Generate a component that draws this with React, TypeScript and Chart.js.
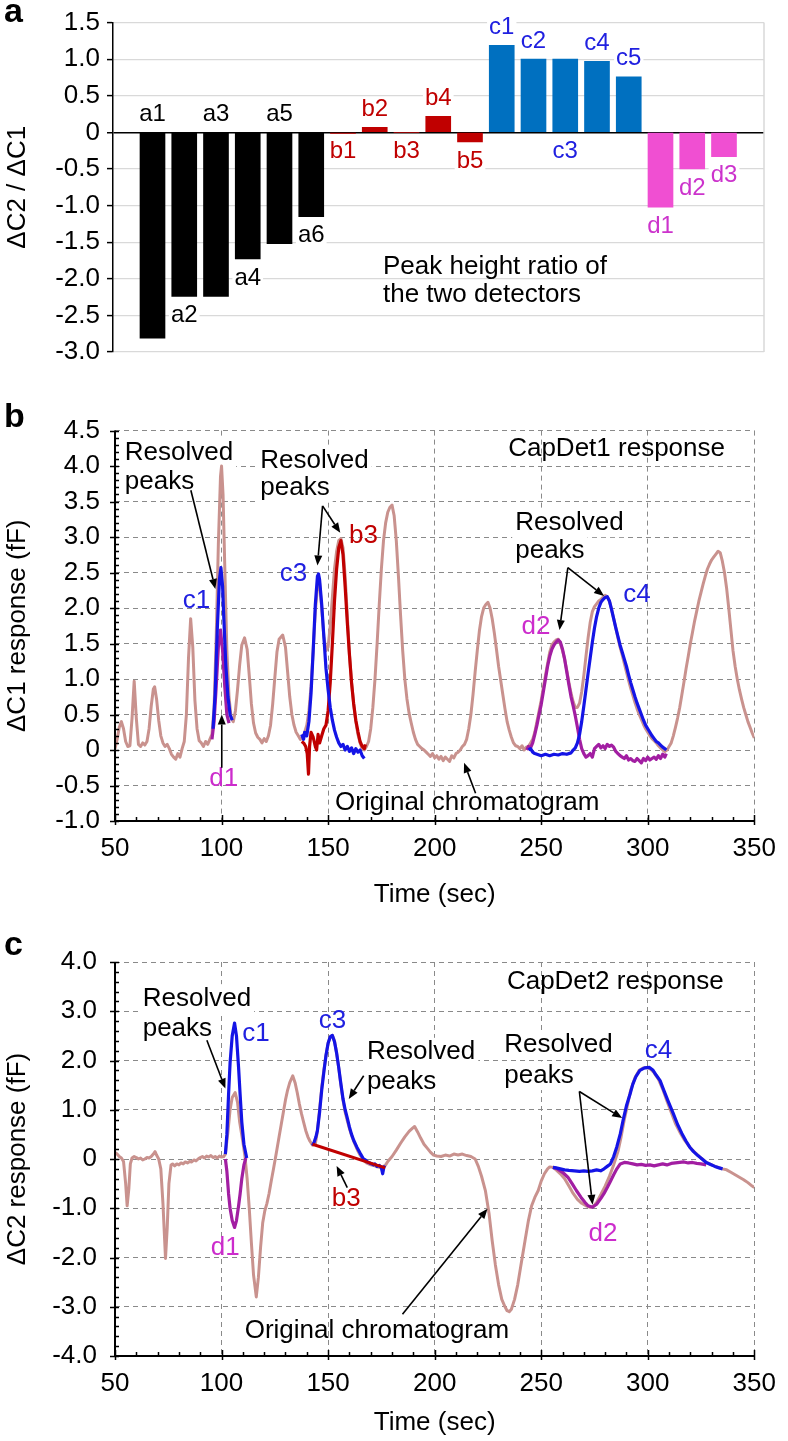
import React, { useEffect, useRef } from 'react';
import { Chart, registerables } from 'chart.js';

Chart.register(...registerables);

const FONT = "'Liberation Sans', Arial, Helvetica, sans-serif";

type Pt = [number, number];

// ---------------- Panel a : peak height ratio ----------------
const barLabels = ['a1', 'a2', 'a3', 'a4', 'a5', 'a6', 'b1', 'b2', 'b3', 'b4', 'b5', 'c1', 'c2', 'c3', 'c4', 'c5', 'd1', 'd2', 'd3'];
const barValues = [-2.81, -2.24, -2.24, -1.73, -1.52, -1.15, -0.015, 0.07, 0, 0.22, -0.13, 1.19, 1.0, 1.0, 0.97, 0.76, -1.02, -0.5, -0.33];
const barGroups = ['a', 'a', 'a', 'a', 'a', 'a', 'b', 'b', 'b', 'b', 'b', 'c', 'c', 'c', 'c', 'c', 'd', 'd', 'd'];
// z = anchored at zero line, e = anchored at bar end; a = above, b = below
const barLabelPlace = ['za', 'eb', 'za', 'eb', 'za', 'eb', 'zb', 'ea', 'zb', 'ea', 'eb', 'ea', 'ea', 'zb', 'ea', 'ea', 'eb', 'eb', 'eb'];
const yTicksA = [1.5, 1.0, 0.5, 0, -0.5, -1.0, -1.5, -2.0, -2.5, -3.0];

// ---------------- Panel b : CapDet1 ----------------
const xTicks = [50, 100, 150, 200, 250, 300, 350];
const yTicksB = [-1.0, -0.5, 0, 0.5, 1.0, 1.5, 2.0, 2.5, 3.0, 3.5, 4.0, 4.5];

const origB: Pt[] = [
  [50, 0.02], [51, 0.15], [52, 0.32], [53, 0.4], [54, 0.3], [55, 0.12], [56, 0.05], [57, 0.06], [58, 0.45], [59, 0.97], [60, 0.45], [61, 0.08],
  [62, 0.05], [63, 0.1], [64, 0.07], [65, 0.12], [66, 0.3], [67, 0.62], [68, 0.86], [68.6, 0.89], [69.5, 0.72], [70.5, 0.42], [71.5, 0.2],
  [72.5, 0.1], [73.5, 0.05], [74.5, 0.08], [75.5, 0.02], [76.5, -0.06], [77.5, -0.1], [78.5, -0.13], [79.5, -0.05], [80.5, -0.1], [81.5, 0.02],
  [82.5, 0.12], [83.5, 0.5], [84.5, 1.3], [85.5, 1.85], [86.5, 1.45], [87.5, 0.7], [88.5, 0.3], [89.5, 0.13], [90.5, 0.1], [91.5, 0.05],
  [92.5, 0.12], [93.5, 0.08], [94.5, 0.15], [95.5, 0.22], [96.5, 0.6], [97.5, 1.6], [98.5, 2.9], [99.5, 3.85], [100, 4.0], [100.7, 3.6],
  [101.5, 2.6], [102.5, 1.4], [103.5, 0.75], [104.5, 0.45], [105.5, 0.4], [106.5, 0.55], [107.5, 0.85], [108.5, 1.2], [109.5, 1.48],
  [110.8, 1.58], [112, 1.42], [113, 1.05], [114, 0.65], [115, 0.38], [116, 0.24], [117, 0.18], [118, 0.15], [119, 0.1], [120, 0.16],
  [121, 0.12], [122, 0.2], [123, 0.35], [124, 0.65], [125, 1.02], [126, 1.38], [127, 1.56], [128.7, 1.62], [130, 1.45], [131, 1.1],
  [132, 0.75], [133, 0.5], [134, 0.35], [135, 0.25], [136, 0.2], [137, 0.15], [138, 0.18], [139, 0.25], [140, 0.35], [141, 0.55],
  [142, 0.9], [143, 1.4], [144, 1.95], [145, 2.3], [146, 2.35], [147, 2.0], [148, 1.6], [149, 1.4], [150, 1.45], [151, 1.75], [152, 2.15],
  [153, 2.55], [154, 2.8], [155, 2.95], [156, 2.98], [157, 2.85], [158, 2.45], [159, 1.9], [160, 1.35], [161, 0.95], [162, 0.65],
  [163, 0.4], [164, 0.22], [165, 0.1], [166, 0.02], [167, 0.0], [168, 0.05], [169, 0.12], [170, 0.3], [171, 0.6], [172, 1.0], [173, 1.5],
  [174, 2.05], [175, 2.55], [176, 2.95], [177, 3.2], [178, 3.35], [179, 3.42], [180, 3.45], [181, 3.3], [182, 2.95], [183, 2.45],
  [184, 1.9], [185, 1.4], [186, 1.0], [187, 0.72], [188, 0.52], [189, 0.38], [190, 0.25], [191, 0.15], [192, 0.08], [193, 0.05],
  [194, 0.02], [195, 0.0], [196, -0.03], [197, -0.06], [198, -0.09], [199, -0.05], [200, -0.11], [201, -0.08], [202, -0.13], [203, -0.09],
  [204, -0.15], [205, -0.1], [206, -0.13], [207, -0.16], [208, -0.08], [209, -0.11], [210, -0.05], [211, -0.03], [212, 0.0], [213, 0.05],
  [214, 0.08], [215, 0.15], [216, 0.3], [217, 0.5], [218, 0.78], [219, 1.1], [220, 1.4], [221, 1.68], [222, 1.88], [223, 2.0], [224, 2.05],
  [225, 2.08], [226, 2.0], [227, 1.85], [228, 1.65], [229, 1.42], [230, 1.18], [231, 0.98], [232, 0.78], [233, 0.58], [234, 0.4],
  [235, 0.28], [236, 0.18], [237, 0.1], [238, 0.06], [239, 0.05], [240, 0.02], [241, 0.06], [242, 0.0], [243, 0.04], [244, 0.05],
  [245, 0.1], [246, 0.15], [247, 0.25], [248, 0.4], [249, 0.55], [250, 0.7], [251, 0.88], [252, 1.05], [253, 1.22], [254, 1.38],
  [255, 1.48], [256, 1.52], [257, 1.55], [258, 1.56], [259, 1.5], [260, 1.4], [261, 1.28], [262, 1.12], [263, 0.95], [264, 0.8],
  [265, 0.68], [266, 0.6], [267, 0.6], [268, 0.66], [269, 0.82], [270, 1.05], [271, 1.32], [272, 1.58], [273, 1.8], [274, 1.95],
  [275, 2.02], [276, 2.06], [277, 2.1], [278, 2.12], [279, 2.15], [280, 2.18], [281, 2.16], [282, 2.1], [283, 1.98], [284, 1.85],
  [285, 1.72], [286, 1.58], [287, 1.45], [288, 1.34], [289, 1.22], [290, 1.1], [291, 0.98], [292, 0.87], [293, 0.77], [294, 0.67],
  [295, 0.58], [296, 0.5], [297, 0.43], [298, 0.36], [299, 0.3], [300, 0.25], [301, 0.2], [302, 0.16], [303, 0.13], [304, 0.1],
  [305, 0.06], [306, 0.03], [307, 0.0], [308, -0.02], [309, 0.0], [310, 0.05], [311, 0.1], [312, 0.2], [313, 0.32], [314, 0.45],
  [315, 0.6], [316, 0.78], [317, 0.96], [318, 1.15], [319, 1.32], [320, 1.5], [321, 1.66], [322, 1.82], [323, 1.96], [324, 2.1],
  [325, 2.22], [326, 2.34], [327, 2.45], [328, 2.55], [329, 2.62], [330, 2.68], [331, 2.72], [332, 2.76], [333, 2.8], [334, 2.78],
  [335, 2.66], [336, 2.5], [337, 2.28], [338, 2.0], [339, 1.7], [340, 1.4], [341, 1.18], [342, 1.0], [343, 0.85], [344, 0.72],
  [345, 0.6], [346, 0.5], [347, 0.4], [348, 0.32], [349, 0.24], [350, 0.17],
];
const c1B: Pt[] = [[96, 0.3], [97, 0.8], [98, 1.7], [99, 2.4], [99.7, 2.57], [100.5, 2.3], [101, 1.9], [102, 1.2], [103, 0.75], [104, 0.5], [105, 0.42]];
const d1B: Pt[] = [[95.5, 0.15], [96.5, 0.4], [97.5, 0.9], [98.5, 1.45], [99.5, 1.69], [100.5, 1.4], [101.5, 0.9], [102.5, 0.5], [103.5, 0.38]];
const c3B: Pt[] = [
  [137.6, 0.22], [138.5, 0.15], [139, 0.25], [140, 0.2], [141, 0.4], [142, 0.8], [143, 1.4], [144, 2.05], [145, 2.45], [145.5, 2.48],
  [146, 2.4], [147, 2.05], [148, 1.6], [149, 1.15], [150, 0.85], [151, 0.6], [152, 0.42], [153, 0.28], [154, 0.18], [155, 0.1], [156, 0.05],
  [157, 0.08], [158, 0.0], [159, 0.05], [160, -0.02], [161, 0.03], [162, -0.05], [163, 0.02], [164, -0.03], [165, 0.0], [166, -0.08], [167, -0.12],
];
const b3B: Pt[] = [
  [137.6, 0.12], [138.5, 0.1], [139.5, 0.05], [140.2, -0.05], [140.8, -0.34], [141.3, 0.05], [142, 0.25], [143, 0.18], [144, 0.05],
  [144.6, 0.0], [145.3, 0.22], [146, 0.1], [147, 0.2], [148, 0.3], [149, 0.35], [150, 0.55], [151, 0.95], [152, 1.5], [153, 2.1],
  [154, 2.55], [155, 2.85], [156, 2.95], [157, 2.75], [158, 2.3], [159, 1.8], [160, 1.35], [161, 0.95], [162, 0.65], [163, 0.42],
  [164, 0.26], [165, 0.12], [166, 0.05], [167, 0.02], [167.5, 0.08],
];
const d2B: Pt[] = [
  [243.2, 0.0], [244, 0.05], [245, 0.03], [246, 0.1], [247, 0.22], [248, 0.35], [249, 0.5], [250, 0.64], [251, 0.82], [252, 1.0],
  [253, 1.18], [254, 1.32], [255, 1.42], [256, 1.48], [257, 1.52], [258, 1.55], [259, 1.52], [260, 1.42], [261, 1.28], [262, 1.1],
  [263, 0.92], [264, 0.75], [265, 0.62], [266, 0.48], [267, 0.32], [268, 0.15], [269, 0.02], [270, -0.05], [271, -0.1], [272, -0.08],
  [273, -0.05], [274, -0.1], [275, 0.02], [276, 0.05], [277, 0.08], [278, 0.03], [279, 0.06], [280, 0.02], [281, 0.08], [282, 0.05],
  [283, 0.07], [284, 0.04], [285, -0.02], [286, -0.05], [287, -0.08], [288, -0.1], [289, -0.12], [290, -0.08], [291, -0.14], [292, -0.12],
  [293, -0.15], [294, -0.16], [295, -0.12], [296, -0.15], [297, -0.18], [298, -0.12], [299, -0.15], [300, -0.1], [301, -0.14],
  [302, -0.12], [303, -0.1], [304, -0.13], [305, -0.08], [306, -0.12], [307, -0.06], [308, -0.1], [308.7, -0.05],
];
const c4B: Pt[] = [
  [244, 0.0], [245, 0.02], [246, -0.03], [247, -0.05], [248, -0.06], [250, -0.08], [252, -0.06], [254, -0.08], [256, -0.06], [258, -0.07],
  [260, -0.05], [262, -0.06], [264, -0.04], [265, 0.0], [266, 0.03], [267, 0.1], [268, 0.22], [269, 0.4], [270, 0.62], [271, 0.85],
  [272, 1.08], [273, 1.3], [274, 1.52], [275, 1.72], [276, 1.88], [277, 2.0], [278, 2.08], [279, 2.12], [280, 2.15], [281, 2.16],
  [282, 2.1], [283, 1.98], [284, 1.85], [285, 1.72], [286, 1.6], [287, 1.48], [288, 1.38], [289, 1.28], [290, 1.18], [291, 1.06],
  [292, 0.95], [293, 0.85], [294, 0.75], [295, 0.66], [296, 0.58], [297, 0.5], [298, 0.42], [299, 0.35], [300, 0.3], [301, 0.25],
  [302, 0.2], [303, 0.16], [304, 0.12], [305, 0.1], [306, 0.07], [307, 0.04], [308, 0.02], [308.7, 0.0],
];

// ---------------- Panel c : CapDet2 ----------------
const yTicksC = [-4.0, -3.0, -2.0, -1.0, 0, 1.0, 2.0, 3.0, 4.0];
const origC: Pt[] = [
  [50, 0.13], [51, 0.1], [52, 0.05], [53, 0.02], [54, -0.05], [55, -0.5], [55.7, -0.95], [56.5, -0.6], [57.2, -0.1], [58, 0.02],
  [59, 0.05], [60, 0.03], [61, 0.0], [62, 0.02], [63, -0.02], [64, 0.0], [65, 0.03], [66, 0.02], [67, 0.05], [68, 0.1], [68.8, 0.15],
  [69.5, 0.08], [70.5, 0.0], [71.5, -0.2], [72.5, -0.9], [73.7, -2.02], [74.5, -1.4], [75.3, -0.5], [76.3, -0.12], [77, -0.1],
  [78, -0.14], [79, -0.1], [80, -0.12], [81, -0.08], [82, -0.1], [83, -0.06], [84, -0.08], [85, -0.05], [86, -0.06], [87, -0.02],
  [88, -0.04], [89, 0.0], [90, 0.03], [91, 0.05], [92, 0.02], [93, 0.06], [94, 0.04], [95, 0.07], [96, 0.03], [97, 0.05], [98, 0.02],
  [99, 0.06], [100, 0.04], [101, 0.05], [101.8, 0.1], [103, 0.55], [104, 1.0], [105, 1.25], [106.4, 1.35], [107.5, 1.15], [108.5, 0.75],
  [110, 0.35], [111, 0.05], [112, -0.4], [113, -1.0], [114, -1.7], [115, -2.35], [116.3, -2.8], [117.3, -2.4], [118.3, -1.8],
  [119.3, -1.3], [120.3, -1.05], [121.3, -0.9], [122.3, -0.7], [123.3, -0.45], [124.3, -0.22], [125.2, 0.0], [126, 0.2], [127, 0.45],
  [128, 0.7], [129, 0.95], [130, 1.2], [131, 1.4], [132, 1.55], [133.4, 1.69], [134.5, 1.55], [135.5, 1.35], [136.5, 1.12], [137.5, 0.92],
  [138.5, 0.75], [139.5, 0.58], [140.5, 0.45], [141.5, 0.36], [142.7, 0.28], [144, 0.3], [145, 0.58], [146, 1.0], [147, 1.45], [148, 1.8],
  [149, 2.1], [150, 2.35], [151, 2.48], [152, 2.51], [153, 2.4], [154, 2.15], [155, 1.85], [156, 1.5], [157, 1.2], [158, 0.95],
  [159, 0.78], [160, 0.62], [161, 0.48], [162, 0.36], [163, 0.26], [164, 0.16], [165, 0.08], [166, 0.02], [167, -0.04], [168, -0.08],
  [169, -0.1], [170, -0.12], [171, -0.13], [172, -0.14], [173, -0.16], [174, -0.17], [175, -0.16], [176, -0.15], [177, -0.12],
  [178, -0.05], [180, 0.05], [182, 0.18], [184, 0.32], [186, 0.45], [188, 0.56], [189.5, 0.62], [190.6, 0.66], [192, 0.55], [193.5, 0.42],
  [195, 0.3], [196.5, 0.22], [198, 0.14], [199.5, 0.08], [201, 0.06], [203, 0.05], [205, 0.08], [207, 0.06], [209, 0.1], [211, 0.08],
  [213, 0.1], [215, 0.07], [217, 0.05], [219, 0.0], [220.5, -0.15], [222, -0.35], [223.8, -0.64], [225.5, -1.1], [227, -1.66],
  [228.5, -2.15], [230, -2.55], [231.5, -2.85], [233, -3.0], [234, -3.08], [235, -3.1], [236, -3.05], [237.5, -2.85], [239, -2.55],
  [240.5, -2.15], [242.4, -1.66], [244, -1.25], [245.5, -0.95], [247, -0.78], [248.6, -0.64], [250, -0.45], [251.5, -0.3], [253, -0.2],
  [254, -0.16], [255.5, -0.17], [257, -0.22], [259, -0.3], [261, -0.4], [263, -0.55], [265, -0.7], [267, -0.82], [269, -0.9], [271, -0.95],
  [273, -0.98], [274.5, -0.96], [276, -0.88], [278, -0.72], [280, -0.55], [282, -0.35], [284, -0.12], [286, 0.15], [287.5, 0.45],
  [289, 0.8], [290.5, 1.1], [292, 1.4], [294, 1.65], [296, 1.8], [298, 1.85], [300, 1.86], [301.5, 1.82], [303, 1.75], [305, 1.62],
  [307, 1.42], [309, 1.18], [311, 0.95], [313, 0.72], [315, 0.55], [317, 0.4], [319, 0.28], [321, 0.18], [323, 0.1], [325, 0.02],
  [327, -0.05], [329, -0.1], [331, -0.14], [333, -0.17], [335, -0.2], [337, -0.22], [339, -0.27], [341, -0.32], [343, -0.37],
  [345, -0.42], [347, -0.48], [349, -0.55], [350, -0.58],
];
const c1C: Pt[] = [[101.8, 0.1], [102.5, 0.5], [103.3, 1.32], [104, 1.95], [105, 2.5], [106.1, 2.76], [107, 2.5], [108, 1.85], [108.7, 1.32], [109.5, 0.75], [110.5, 0.3], [111.8, 0.02]];
const d1C: Pt[] = [[101.8, 0.0], [102.5, -0.25], [103.3, -0.71], [104, -1.0], [105, -1.25], [106.1, -1.39], [107, -1.25], [108, -0.95], [108.7, -0.71], [109.5, -0.4], [110.5, -0.12], [111.4, 0.02]];
const c3C: Pt[] = [
  [142.7, 0.27], [143.5, 0.35], [144.3, 0.45], [145, 0.58], [146, 0.95], [147, 1.4], [148.1, 1.8], [149, 2.1], [150, 2.35], [151, 2.48],
  [152, 2.51], [153, 2.38], [154, 2.15], [155, 1.85], [155.8, 1.59], [157, 1.22], [158, 1.0], [158.9, 0.85], [160, 0.65], [161, 0.5],
  [162, 0.38], [163.5, 0.24], [165, 0.12], [166.6, 0.0], [167.5, -0.02], [168.5, -0.06], [169.5, -0.08], [170.5, -0.1], [171.3, -0.12],
  [172, -0.1], [173, -0.15], [174, -0.13], [175, -0.18], [175.6, -0.3], [176.2, -0.16], [176.8, -0.18],
];
const b3C: Pt[] = [[142.7, 0.3], [176.8, -0.18]];
const c4C: Pt[] = [
  [255.5, -0.17], [257, -0.18], [259, -0.2], [261, -0.22], [263, -0.23], [265.6, -0.24], [268, -0.25], [270, -0.24], [272, -0.25],
  [274, -0.24], [276, -0.22], [277.9, -0.24], [279.5, -0.2], [281, -0.15], [282.5, -0.1], [284, 0.05], [285.5, 0.25], [287.1, 0.51],
  [288.5, 0.8], [290, 1.08], [291.7, 1.32], [293, 1.52], [294.5, 1.68], [296.3, 1.8], [298.5, 1.85], [300.8, 1.86], [302.5, 1.8],
  [304, 1.7], [305.8, 1.59], [307.5, 1.4], [309.5, 1.18], [312, 0.92], [314, 0.7], [316, 0.52], [318, 0.36], [319.7, 0.24],
  [321.5, 0.15], [323.5, 0.07], [325.5, 0.0], [327.4, -0.07], [329.5, -0.11], [331.5, -0.15], [333.5, -0.18], [335.1, -0.2],
];
const d2C: Pt[] = [
  [255.5, -0.17], [257.5, -0.2], [260, -0.27], [262.5, -0.37], [264.5, -0.5], [266.5, -0.64], [268.7, -0.78], [270.5, -0.88], [272, -0.95],
  [274, -0.98], [276, -0.92], [278, -0.8], [279.5, -0.7], [281, -0.58], [282.5, -0.45], [284, -0.32], [285.5, -0.2], [287.1, -0.1],
  [289, -0.07], [291, -0.08], [293, -0.1], [295, -0.12], [297, -0.11], [299, -0.13], [301, -0.12], [303, -0.14], [305, -0.12], [307, -0.1],
  [309, -0.12], [311, -0.09], [313, -0.08], [315, -0.07], [317, -0.06], [319, -0.08], [321, -0.07], [323, -0.09], [325, -0.1], [327.4, -0.12],
];

// ---------------- colours ----------------
const ROSY = '#c9928e';
const BLUE = '#1414e6';
const PURPLE = '#a21ea2';
const RED = '#c00000';
const BLUE_T = '#2020e0';
const MAG_T = '#cc2ccc';
const barColor: Record<string, string> = { a: '#000000', b: '#c00000', c: '#0070c0', d: '#f04fd2' };
const labelColor: Record<string, string> = { a: '#000000', b: '#c00000', c: '#2020e0', d: '#cc33cc' };

type Note = { text: string; x: number; y: number; color?: string; align?: CanvasTextAlign; box?: boolean };
type Arrow = [number, number, number, number];

const notesA: Note[] = [
  { text: 'Peak height ratio of', x: 7.26, y: -1.84, align: 'left' },
  { text: 'the two detectors', x: 7.26, y: -2.22, align: 'left' },
];

const notesB: Note[] = [
  { text: 'Resolved', x: 54.6, y: 4.18, align: 'left', box: true },
  { text: 'peaks', x: 54.6, y: 3.78, align: 'left', box: true },
  { text: 'Resolved', x: 118.2, y: 4.08, align: 'left', box: true },
  { text: 'peaks', x: 118.2, y: 3.69, align: 'left', box: true },
  { text: 'c1', x: 88.2, y: 2.1, color: BLUE_T },
  { text: 'd1', x: 101, y: -0.4, color: MAG_T },
  { text: 'c3', x: 133.7, y: 2.48, color: BLUE_T },
  { text: 'b3', x: 166.6, y: 3.02, color: RED },
  { text: 'CapDet1 response', x: 234.5, y: 4.25, align: 'left' },
  { text: 'Resolved', x: 237.8, y: 3.2, align: 'left', box: true },
  { text: 'peaks', x: 237.8, y: 2.81, align: 'left', box: true },
  { text: 'd2', x: 247.5, y: 1.73, color: MAG_T },
  { text: 'c4', x: 295, y: 2.18, color: BLUE_T },
  { text: 'Original chromatogram', x: 215.3, y: -0.74 },
];
const arrowsB: Arrow[] = [
  [85.6, 3.66, 97.1, 2.27],
  [147.4, 3.44, 145.0, 2.6],
  [147.4, 3.44, 155.7, 3.06],
  [100.1, -0.25, 100.1, 0.5],
  [262.5, 2.57, 258.6, 1.69],
  [262.5, 2.57, 279.5, 2.17],
  [219.2, -0.61, 213.8, -0.18],
];

const notesC: Note[] = [
  { text: 'Resolved', x: 63.0, y: 3.26, align: 'left', box: true },
  { text: 'peaks', x: 63.0, y: 2.65, align: 'left', box: true },
  { text: 'c1', x: 116.1, y: 2.55, color: BLUE_T },
  { text: 'c3', x: 152, y: 2.81, color: BLUE_T },
  { text: 'Resolved', x: 168.2, y: 2.17, align: 'left', box: true },
  { text: 'peaks', x: 168.2, y: 1.56, align: 'left', box: true },
  { text: 'b3', x: 158.5, y: -0.81, color: RED },
  { text: 'd1', x: 101.7, y: -1.8, color: MAG_T },
  { text: 'CapDet2 response', x: 233.9, y: 3.59, align: 'left' },
  { text: 'Resolved', x: 232.7, y: 2.31, align: 'left', box: true },
  { text: 'peaks', x: 232.7, y: 1.69, align: 'left', box: true },
  { text: 'c4', x: 305, y: 2.2, color: BLUE_T },
  { text: 'd2', x: 279, y: -1.52, color: MAG_T },
  { text: 'Original chromatogram', x: 172.9, y: -3.49 },
];
const arrowsC: Arrow[] = [
  [93.1, 2.41, 101.8, 1.43],
  [166.7, 1.69, 159.7, 1.22],
  [159.0, -0.58, 154.0, -0.14],
  [267.9, 1.37, 288.0, 0.83],
  [267.9, 1.37, 274.1, -0.93],
  [184.9, -3.15, 224.8, -1.01],
];

// ---------------- helpers ----------------
const toXY = (pts: Pt[]) => pts.map(([x, y]) => ({ x, y }));
const fmt1 = (v: number) => (Math.abs(v) < 1e-9 ? '0' : v.toFixed(1));

function drawNotes(chart: any, notes: Note[], size: number) {
  const { ctx, scales } = chart;
  const xs = scales.x;
  const ys = scales.y;
  ctx.save();
  ctx.font = `${size}px ${FONT}`;
  ctx.textBaseline = 'middle';
  notes.forEach((n) => {
    const px = xs.getPixelForValue(n.x);
    const py = ys.getPixelForValue(n.y);
    const align = n.align || 'center';
    ctx.textAlign = align;
    if (n.box) {
      const w = ctx.measureText(n.text).width;
      const left = align === 'left' ? px : px - w / 2;
      ctx.fillStyle = '#ffffff';
      ctx.fillRect(left - 3, py - size * 0.55, w + 6, size * 1.1);
    }
    ctx.fillStyle = n.color || '#000000';
    ctx.fillText(n.text, px, py);
  });
  ctx.restore();
}

function drawArrows(chart: any, arrows: Arrow[]) {
  const { ctx, scales } = chart;
  const xs = scales.x;
  const ys = scales.y;
  ctx.save();
  ctx.strokeStyle = '#000';
  ctx.fillStyle = '#000';
  ctx.lineWidth = 1.6;
  arrows.forEach(([x1, y1, x2, y2]) => {
    const ax = xs.getPixelForValue(x1);
    const ay = ys.getPixelForValue(y1);
    const bx = xs.getPixelForValue(x2);
    const by = ys.getPixelForValue(y2);
    const ang = Math.atan2(by - ay, bx - ax);
    const L = 10;
    const W = 4;
    const ex = bx - L * Math.cos(ang);
    const ey = by - L * Math.sin(ang);
    ctx.beginPath();
    ctx.moveTo(ax, ay);
    ctx.lineTo(ex, ey);
    ctx.stroke();
    ctx.beginPath();
    ctx.moveTo(bx, by);
    ctx.lineTo(ex + W * Math.sin(ang), ey - W * Math.cos(ang));
    ctx.lineTo(ex - W * Math.sin(ang), ey + W * Math.cos(ang));
    ctx.closePath();
    ctx.fill();
  });
  ctx.restore();
}

function letterPlugin(letter: string, baseline: number) {
  return {
    id: 'panelLetter',
    afterDraw(chart: any) {
      const { ctx } = chart;
      ctx.save();
      ctx.font = `bold 34px ${FONT}`;
      ctx.fillStyle = '#000';
      ctx.textAlign = 'left';
      ctx.textBaseline = 'alphabetic';
      ctx.fillText(letter, 4, baseline);
      ctx.restore();
    },
  };
}

// ---------------- panel a ----------------
function makeA(canvas: HTMLCanvasElement) {
  const barLabelPlugin = {
    id: 'barLabels',
    beforeDatasetsDraw(chart: any) {
      const { ctx, chartArea: a } = chart;
      ctx.save();
      ctx.strokeStyle = '#d9d9d9';
      ctx.lineWidth = 1.5;
      ctx.beginPath();
      ctx.moveTo(a.right, a.top);
      ctx.lineTo(a.right, a.bottom);
      ctx.stroke();
      ctx.restore();
      drawNotes(chart, notesA, 26);
    },
    afterDatasetsDraw(chart: any) {
      const { ctx, scales } = chart;
      const ys = scales.y;
      const meta = chart.getDatasetMeta(0);
      ctx.save();
      ctx.font = `24px ${FONT}`;
      ctx.textAlign = 'center';
      ctx.textBaseline = 'middle';
      barLabels.forEach((lab, i) => {
        const el = meta.data[i];
        const px = el.x;
        const place = barLabelPlace[i];
        const anchor = place[0] === 'z' ? ys.getPixelForValue(0) : ys.getPixelForValue(barValues[i]);
        const py = place[1] === 'a' ? anchor - 18 : anchor + 19;
        const w = ctx.measureText(lab).width;
        ctx.fillStyle = '#ffffff';
        ctx.fillRect(px - w / 2 - 2, py - 10, w + 4, 20);
        ctx.fillStyle = labelColor[barGroups[i]];
        ctx.fillText(lab, px, py);
      });
      ctx.restore();
    },
  };

  return new Chart(canvas, {
    type: 'bar',
    data: {
      datasets: [
        {
          data: barValues.map((v, i) => ({ x: i, y: v })),
          backgroundColor: barGroups.map((g) => barColor[g]),
          borderWidth: 0,
          barThickness: 25,
        } as any,
      ],
    },
    options: {
      responsive: false,
      animation: false,
      layout: { padding: { top: 22, right: 24, bottom: 48, left: 0 } },
      plugins: { legend: { display: false }, tooltip: { enabled: false } },
      scales: {
        x: { type: 'linear', min: -1.244, max: 19.26, offset: false, bounds: 'ticks', display: false, grid: { offset: false } },
        y: {
          type: 'linear',
          min: -3,
          max: 1.5,
          afterBuildTicks: (s: any) => {
            s.ticks = yTicksA.map((v) => ({ value: v }));
          },
          afterFit: (s: any) => {
            s.width = 113;
          },
          grid: {
            color: (c: any) => (c.tick && Math.abs(c.tick.value) < 1e-9 ? '#000000' : '#d9d9d9'),
            lineWidth: (c: any) => (c.tick && Math.abs(c.tick.value) < 1e-9 ? 1.5 : 1.2),
            drawTicks: true,
            tickLength: 6,
            tickColor: '#000000',
            tickWidth: 1.5,
          },
          border: { display: true, color: '#000000', width: 1.5 },
          ticks: { padding: 7, color: '#000', font: { family: FONT, size: 26 }, callback: (v: any) => fmt1(Number(v)) },
          title: { display: true, text: 'ΔC2 / ΔC1', color: '#000', font: { family: FONT, size: 26 }, padding: { top: 2, bottom: 0 } },
        },
      },
    } as any,
    plugins: [barLabelPlugin, letterPlugin('a', 22)],
  });
}

// ---------------- panels b, c ----------------
type LineCfg = {
  series: { data: Pt[]; color: string; width: number; order: number }[];
  yTicks: number[];
  yTitle: string;
  padTop: number;
  xAxisHeight: number;
  titlePadBottom: number;
  yTickPad: number;
  minorY: number;
  notes: Note[];
  arrows: Arrow[];
  letter: string;
  letterBaseline: number;
};

function makeLine(canvas: HTMLCanvasElement, cfg: LineCfg) {
  const yMin = cfg.yTicks[0];
  const yMax = cfg.yTicks[cfg.yTicks.length - 1];
  const xMin = xTicks[0];
  const xMax = xTicks[xTicks.length - 1];

  const decor = {
    id: 'decor',
    beforeDatasetsDraw(chart: any) {
      drawNotes(chart, cfg.notes, 26);
    },
    afterDatasetsDraw(chart: any) {
      const { ctx, chartArea: a, scales } = chart;
      const xs = scales.x;
      const ys = scales.y;
      ctx.save();
      ctx.strokeStyle = '#000';
      ctx.lineWidth = 2;
      ctx.beginPath();
      ctx.moveTo(a.left, a.top);
      ctx.lineTo(a.left, a.bottom);
      ctx.lineTo(a.right, a.bottom);
      ctx.stroke();
      ctx.lineWidth = 1.5;
      ctx.beginPath();
      const isMaj = (arr: number[], v: number) => arr.some((t) => Math.abs(t - v) < 1e-6);
      for (let k = 0; ; k++) {
        const v = yMin + k * cfg.minorY;
        if (v > yMax + 1e-6) break;
        const py = Math.round(ys.getPixelForValue(v)) + 0.5;
        if (isMaj(cfg.yTicks, v)) {
          ctx.moveTo(a.left - 5, py);
          ctx.lineTo(a.left + 4, py);
        } else {
          ctx.moveTo(a.left, py);
          ctx.lineTo(a.left + 4, py);
        }
      }
      for (let k = 0; ; k++) {
        const v = xMin + k * 10;
        if (v > xMax + 1e-6) break;
        const px = Math.round(xs.getPixelForValue(v)) + 0.5;
        if (isMaj(xTicks, v)) {
          ctx.moveTo(px, a.bottom + 4);
          ctx.lineTo(px, a.bottom - 6);
        } else {
          ctx.moveTo(px, a.bottom);
          ctx.lineTo(px, a.bottom - 4);
        }
      }
      ctx.stroke();
      ctx.restore();
      drawArrows(chart, cfg.arrows);
    },
  };

  return new Chart(canvas, {
    type: 'line',
    data: {
      datasets: cfg.series.map((s) => ({
        data: toXY(s.data),
        borderColor: s.color,
        backgroundColor: s.color,
        borderWidth: s.width,
        pointRadius: 0,
        tension: 0,
        fill: false,
        order: s.order,
        borderJoinStyle: 'round',
      })) as any,
    },
    options: {
      responsive: false,
      animation: false,
      layout: { padding: { top: cfg.padTop, right: 26, bottom: 0, left: 0 } },
      plugins: { legend: { display: false }, tooltip: { enabled: false } },
      scales: {
        x: {
          type: 'linear',
          min: xMin,
          max: xMax,
          afterBuildTicks: (s: any) => {
            s.ticks = xTicks.map((v) => ({ value: v }));
          },
          afterFit: (s: any) => {
            s.height = cfg.xAxisHeight;
          },
          grid: { color: '#8a8a8a', lineWidth: 1, drawTicks: false },
          border: { display: false, dash: [5, 4] },
          ticks: { padding: 12, color: '#000', font: { family: FONT, size: 26 }, maxRotation: 0, callback: (v: any) => String(v) },
          title: { display: true, text: 'Time (sec)', color: '#000', font: { family: FONT, size: 26 }, padding: { top: 0, bottom: cfg.titlePadBottom } },
        },
        y: {
          type: 'linear',
          min: yMin,
          max: yMax,
          afterBuildTicks: (s: any) => {
            s.ticks = cfg.yTicks.map((v) => ({ value: v }));
          },
          afterFit: (s: any) => {
            s.width = 115;
          },
          grid: { color: '#8a8a8a', lineWidth: 1, drawTicks: false },
          border: { display: false, dash: [5, 4] },
          ticks: { padding: cfg.yTickPad, color: '#000', font: { family: FONT, size: 26 }, callback: (v: any) => fmt1(Number(v)) },
          title: { display: true, text: cfg.yTitle, color: '#000', font: { family: FONT, size: 26 }, padding: { top: 2, bottom: 0 } },
        },
      },
    } as any,
    plugins: [decor, letterPlugin(cfg.letter, cfg.letterBaseline)],
  });
}

function makeB(canvas: HTMLCanvasElement) {
  return makeLine(canvas, {
    series: [
      { data: c1B, color: BLUE, width: 3.2, order: 1 },
      { data: d1B, color: PURPLE, width: 3.2, order: 2 },
      { data: c3B, color: BLUE, width: 3.2, order: 3 },
      { data: b3B, color: RED, width: 3.2, order: 4 },
      { data: c4B, color: BLUE, width: 3.2, order: 5 },
      { data: d2B, color: PURPLE, width: 3.2, order: 6 },
      { data: origB, color: ROSY, width: 3, order: 10 },
    ],
    yTicks: yTicksB,
    yTitle: 'ΔC1 response (fF)',
    padTop: 27,
    xAxisHeight: 89,
    titlePadBottom: 0,
    yTickPad: 15,
    minorY: 0.1,
    notes: notesB,
    arrows: arrowsB,
    letter: 'b',
    letterBaseline: 27,
  });
}

function makeC(canvas: HTMLCanvasElement) {
  return makeLine(canvas, {
    series: [
      { data: c1C, color: BLUE, width: 3.2, order: 1 },
      { data: d1C, color: PURPLE, width: 3.2, order: 2 },
      { data: b3C, color: RED, width: 3, order: 3 },
      { data: c3C, color: BLUE, width: 3.2, order: 4 },
      { data: c4C, color: BLUE, width: 3.2, order: 5 },
      { data: d2C, color: PURPLE, width: 3.2, order: 6 },
      { data: origC, color: ROSY, width: 3, order: 10 },
    ],
    yTicks: yTicksC,
    yTitle: 'ΔC2 response (fF)',
    padTop: 52,
    xAxisHeight: 85,
    titlePadBottom: 3,
    yTickPad: 18,
    minorY: 0.2,
    notes: notesC,
    arrows: arrowsC,
    letter: 'c',
    letterBaseline: 45,
  });
}

export default function App() {
  const refA = useRef<HTMLCanvasElement>(null);
  const refB = useRef<HTMLCanvasElement>(null);
  const refC = useRef<HTMLCanvasElement>(null);

  useEffect(() => {
    const charts = [makeA(refA.current!), makeB(refB.current!), makeC(refC.current!)];
    return () => charts.forEach((c) => c.destroy());
  }, []);

  return (
    <div style={{ position: 'absolute', left: 0, top: 0, width: 788, height: 1441, background: '#ffffff' }}>
      <canvas ref={refA} width={788} height={400} style={{ position: 'absolute', left: 0, top: 0, width: 788, height: 400 }} />
      <canvas ref={refB} width={788} height={510} style={{ position: 'absolute', left: 0, top: 400, width: 788, height: 510 }} />
      <canvas ref={refC} width={788} height={531} style={{ position: 'absolute', left: 0, top: 910, width: 788, height: 531 }} />
    </div>
  );
}
